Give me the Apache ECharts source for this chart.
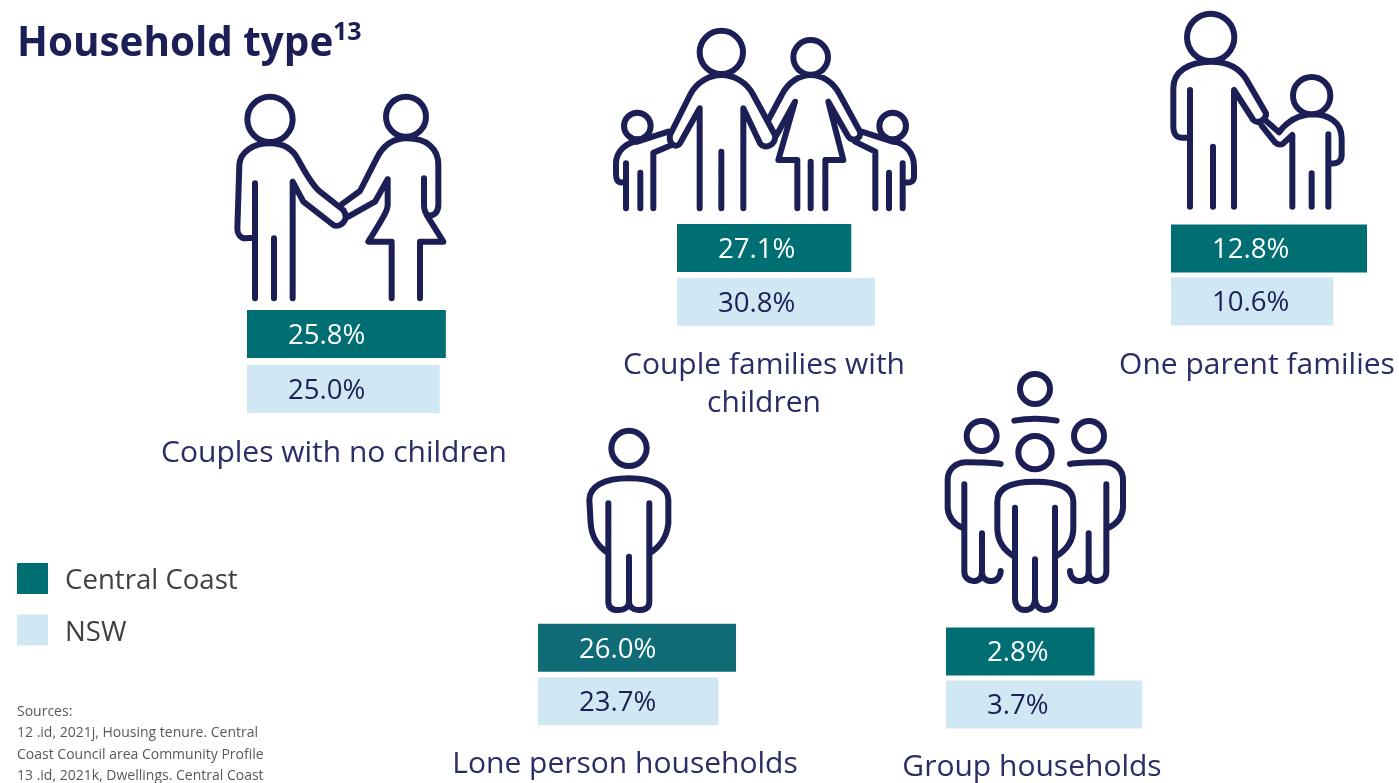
<!DOCTYPE html>
<html lang="en">
<head>
    <meta charset="UTF-8">
    <title>Household type</title>
    <script src="https://cdn.jsdelivr.net/npm/echarts@6/dist/echarts.min.js"></script>
    <style>
        html, body { margin: 0; background: #fff; }
        #chart { width: 1399px; height: 783px; }
    </style>
</head>
<body>
    <div id="chart"></div>
    <script>
        const seriesNames = ['Central Coast', 'NSW'];
        const groupNames = ['Couples with no children', 'Couple families with\nchildren', 'One parent families', 'Lone person households', 'Group households'];
        const centralCoast = [25.8, 27.1, 12.8, 26.0, 2.8];
        const nsw = [25.0, 30.8, 10.6, 23.7, 3.7];
        // each group in the source has its own bar scale
        const axisMax = [25.95, 31.1, 13.06, 26.26, 3.77];
        const sources = 'Sources:\n12 .id, 2021j, Housing tenure. Central\nCoast Council area Community Profile\n13 .id, 2021k, Dwellings. Central Coast';

        const NAVY = '#1c1f56';
        const TEAL = '#006f74';
        const LIGHT = '#d0e8f3';
        const FONT = '"Open Sans", sans-serif';

        // bar block position: left, top, band height
        const blocks = [
            { left: 247, top: 306.5, band: 55 },
            { left: 677, top: 221, band: 54 },
            { left: 1171, top: 222, band: 53 },
            { left: 538, top: 621, band: 53.5 },
            { left: 946, top: 625, band: 53 }
        ];
        const nameSpots = [[334, 453], [764, 384], [1257, 365], [625, 764], [1032, 767]];

        function ring(cx, cy, r) {
            return `M${cx - r} ${cy}a${r} ${r} 0 1 0 ${2 * r} 0a${r} ${r} 0 1 0 ${-2 * r} 0`;
        }

        // icon outlines, drawn in 3x units and scaled down
        const icons = [
            { x: 220, y: 85, d: ring(150, 103, 68) + ring(558, 95, 60) +
                'M105 295L105 640M162 460L162 640' +
                'M100 458L78 460C60 460 52 445 52 432L58 240C60 200 100 175 150 175C195 175 220 195 235 225C255 260 275 300 300 320L370 375C390 405 360 430 340 420L250 350L218 290L218 640' +
                'M365 358L420 318L470 220C490 180 520 160 560 160C620 160 655 190 655 240L655 360C655 385 640 392 625 392C615 385 612 375 612 360L612 280' +
                'M503 283L465 350L385 395M503 283L503 360C503 375 495 390 445 470L515 470L515 640M600 640L600 470L670 470L620 390' },
            { x: 600, y: 20, d: ring(364, 97, 65) + ring(632, 112, 52) + ring(112, 318, 40) + ring(878, 318, 40) +
                'M299 565L299 265L240 370C230 385 205 375 210 345L270 225C290 185 330 165 364 165C400 165 440 185 460 225L525 345C530 375 495 390 480 370L430 265L430 565M364 395L364 565' +
                'M505 300L545 225C565 185 600 165 632 165C665 165 700 185 720 225L780 335C785 360 755 365 745 350L685 245L730 420L676 420L676 565M632 425L632 565M592 565L592 420L535 420L585 245L530 345' +
                'M78 565L78 430M70 487C50 490 48 475 48 460L48 430C48 395 80 365 112 365L205 335M160 565L160 398L215 375M121 458L121 565' +
                'M785 335L878 365C910 365 942 395 942 440L942 470C942 485 930 490 915 487M908 430L908 565M826 565L826 395L765 365M867 458L867 565' },
            { x: 1155, y: 5, d: ring(167, 97, 71) + ring(470, 272, 56) +
                'M105 255L105 605M100 398L80 398C60 398 55 380 55 365L55 250C55 200 100 170 167 170C220 170 255 190 275 225L333 325C335 340 310 360 295 345L237 255L237 605M174 425L174 605' +
                'M330 345L372 382C400 345 430 330 470 328C520 328 560 350 560 400L560 450C560 470 545 478 525 475M520 388L520 605M470 505L470 605' +
                'M320 362L360 412C370 420 380 420 385 415L412 390L412 605' },
            { x: 570, y: 420, d: ring(177, 85, 53) +
                'M115 250L115 545C115 565 130 570 145 570C165 570 177 560 177 545L177 410M177 545C177 560 190 570 205 570C225 570 238 565 238 545L238 250' +
                'M115 400C85 380 65 355 62 310L58 240C58 200 100 175 177 175C250 175 295 200 295 240L295 310C290 355 270 380 238 400' },
            { x: 935, y: 365, d: ring(300, 72, 45) + ring(140, 213, 45) + ring(462, 213, 45) + ring(300, 263, 50) +
                'M238 167Q300 155 365 167' +
                'M197 297C170 292 120 292 95 292C60 292 38 315 38 345L38 430C40 455 55 475 80 488' +
                'M88 358L88 620C88 640 105 648 115 648C135 648 141 635 141 620L141 505M141 620C141 640 155 648 170 648C185 648 197 635 197 618' +
                'M405 297C432 292 482 292 507 292C542 292 564 315 564 345L564 430C562 455 547 475 522 488' +
                'M514 358L514 620C514 640 497 648 487 648C467 648 461 635 461 620L461 505M461 620C461 640 447 648 432 648C417 648 405 635 405 618' +
                'M240 428L240 700C240 725 255 735 270 735C290 735 300 720 300 700L300 583M300 700C300 720 312 735 330 735C350 735 360 725 360 700L360 428' +
                'M238 575C205 555 187 525 187 490L187 410C187 370 225 350 300 350C375 350 415 370 415 410L415 490C415 525 395 555 362 575' }
        ];

        const grids = [], xAxes = [], yAxes = [], series = [], graphics = [];

        blocks.forEach((b, i) => {
            grids.push({ left: b.left, top: b.top, width: 200, height: b.band * 2 });
            xAxes.push({ gridIndex: i, type: 'value', min: 0, max: axisMax[i], show: false });
            yAxes.push({ gridIndex: i, type: 'category', data: seriesNames, inverse: true, show: false });

            [centralCoast, nsw].forEach((values, k) => {
                const data = k === 0 ? [values[i], null] : [null, values[i]];
                series.push({
                    name: seriesNames[k],
                    type: 'bar',
                    xAxisIndex: i,
                    yAxisIndex: i,
                    stack: 'group' + i,
                    barWidth: 48,
                    data: data,
                    itemStyle: { color: k === 0 ? (i === 3 ? '#0f6b75' : TEAL) : LIGHT },
                    label: {
                        show: true,
                        position: 'insideLeft',
                        distance: 41,
                        offset: [0, 2],
                        fontFamily: FONT,
                        fontSize: 27.6,
                        color: k === 0 ? '#ffffff' : NAVY,
                        formatter: p => p.value.toFixed(1) + '%'
                    }
                });
            });

            graphics.push({
                type: 'text',
                x: nameSpots[i][0],
                y: nameSpots[i][1],
                style: {
                    text: groupNames[i],
                    fontFamily: FONT,
                    fontSize: 30,
                    lineHeight: 38,
                    fill: '#2a2d66',
                    align: 'center',
                    verticalAlign: 'middle'
                }
            });
        });

        icons.forEach((ic, i) => {
            echarts.graphic.registerShape('icon' + i, echarts.graphic.extendPath(ic.d, {}));
            graphics.push({
                type: 'icon' + i,
                x: ic.x,
                y: ic.y,
                scaleX: 1 / 3,
                scaleY: 1 / 3,
                style: { fill: null, stroke: NAVY, lineWidth: 18, lineCap: 'round', lineJoin: 'round' }
            });
        });

        graphics.push({
            type: 'text', x: 17, y: 701,
            style: { text: sources, fontFamily: FONT, fontSize: 14, lineHeight: 21.5, fill: '#595959' }
        });
        graphics.push({
            type: 'text', x: 333, y: 20,
            style: { text: '13', fontFamily: FONT, fontSize: 25, fontWeight: 'bold', fill: NAVY }
        });

        const chart = echarts.init(document.getElementById('chart'));
        chart.setOption({
            animation: false,
            title: {
                text: 'Household type',
                left: 12,
                top: 19,
                textStyle: { fontFamily: FONT, fontSize: 40.4, fontWeight: 'bold', color: NAVY }
            },
            legend: {
                data: seriesNames,
                orient: 'vertical',
                left: 12,
                top: 558,
                itemWidth: 31,
                itemHeight: 31,
                itemGap: 19,
                icon: 'rect',
                selectedMode: false,
                formatter: '{a|{name}}',
                textStyle: {
                    rich: {
                        a: { fontFamily: FONT, fontSize: 27.6, color: '#404040', padding: [6, 0, 0, 12] }
                    }
                }
            },
            grid: grids,
            xAxis: xAxes,
            yAxis: yAxes,
            series: series,
            graphic: graphics
        });
    </script>
</body>
</html>
